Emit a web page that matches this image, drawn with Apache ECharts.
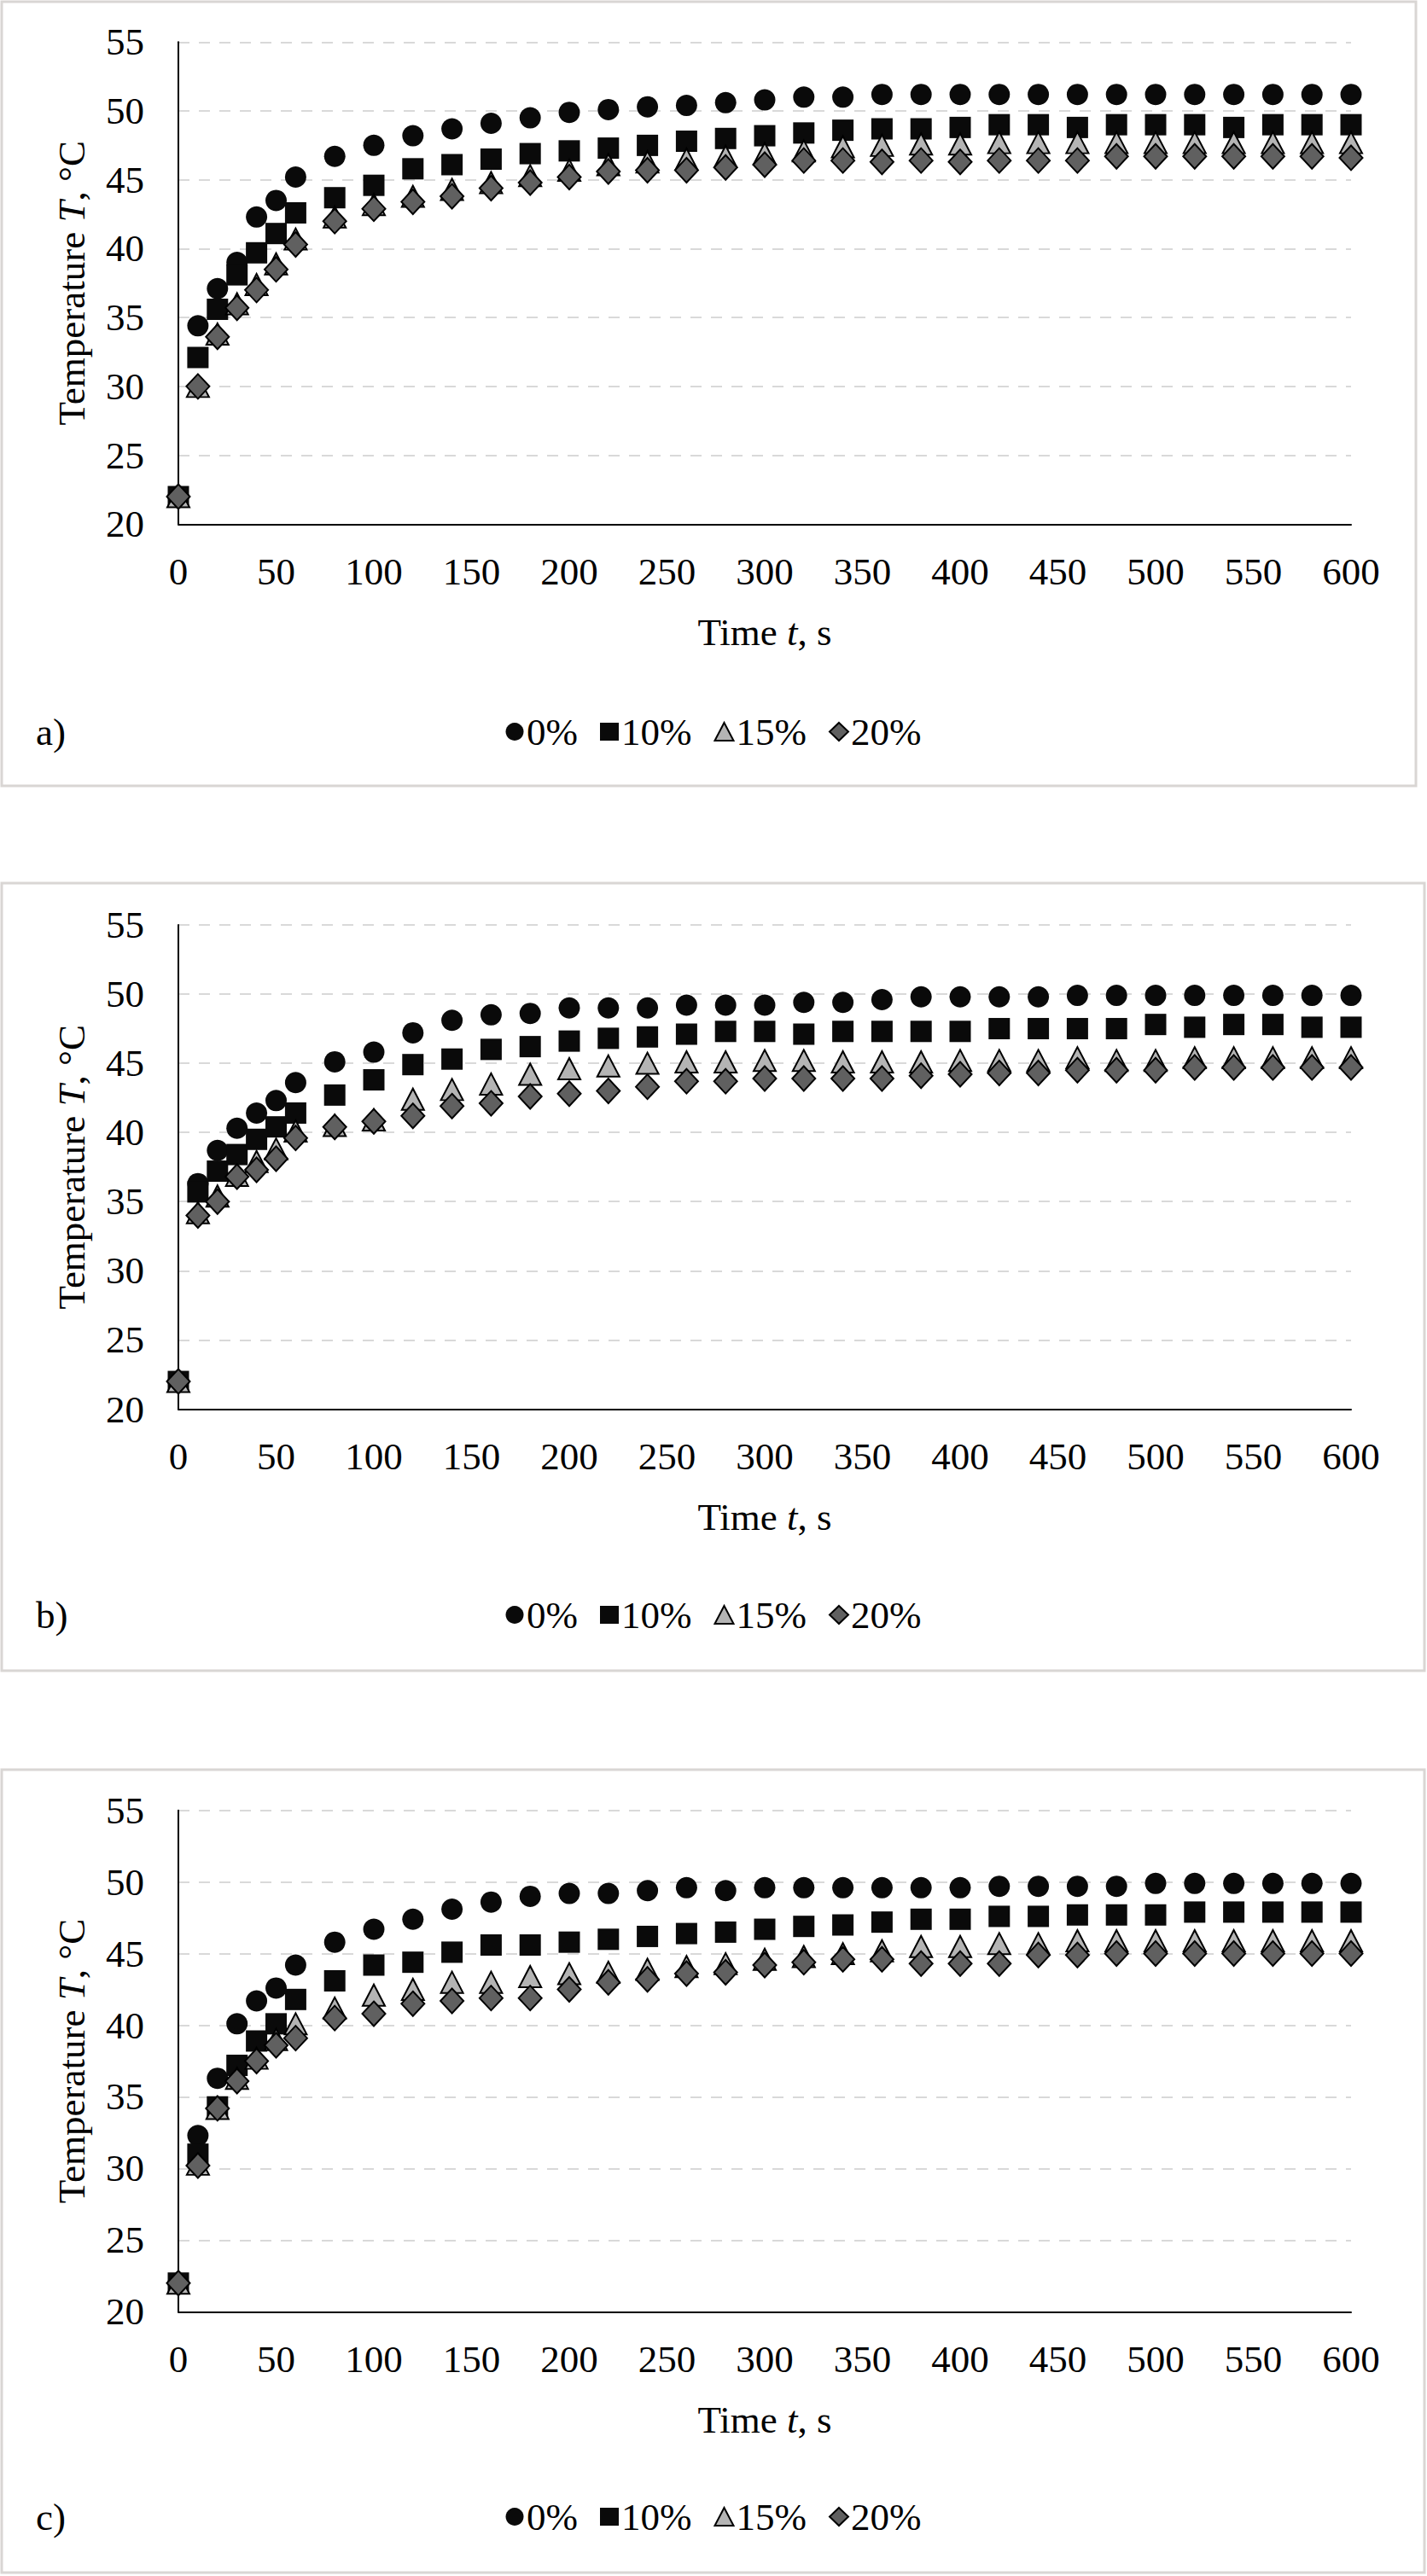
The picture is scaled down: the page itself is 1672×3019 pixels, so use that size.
<!DOCTYPE html>
<html>
<head>
<meta charset="utf-8">
<script src="https://cdn.jsdelivr.net/npm/echarts@6/dist/echarts.min.js"></script>
<style>
html,body{margin:0;padding:0;background:#fff;}
#chart{width:1672px;height:3019px;}
</style>
</head>
<body>
<div id="chart"></div>
<script>
// ---- data ----
const time = [0,10,20,30,40,50,60,80,100,120,140,160,180,200,220,240,260,280,300,320,340,360,380,400,420,440,460,480,500,520,540,560,580,600];
const seriesNames = ['0%','10%','15%','20%'];
const xTicks = [0,50,100,150,200,250,300,350,400,450,500,550,600];
const yTicks = [20,25,30,35,40,45,50,55];
const panelLabels = ['a)','b)','c)'];

// panel a
const a0  = [22.0,34.4,37.1,39.0,42.3,43.5,45.2,46.7,47.5,48.2,48.7,49.1,49.5,49.9,50.1,50.3,50.4,50.6,50.8,51.0,51.0,51.2,51.2,51.2,51.2,51.2,51.2,51.2,51.2,51.2,51.2,51.2,51.2,51.2];
const a10 = [22.0,32.1,35.6,38.1,39.7,41.1,42.6,43.7,44.6,45.8,46.1,46.5,46.9,47.1,47.3,47.5,47.8,48.0,48.2,48.4,48.6,48.7,48.7,48.8,49.0,49.0,48.8,49.0,49.0,49.0,48.8,49.0,49.0,49.0];
const a15 = [22.0,30.0,33.8,36.0,37.4,38.9,40.7,42.3,43.2,43.8,44.3,44.8,45.3,45.7,46.1,46.3,46.5,46.7,46.9,47.1,47.4,47.5,47.6,47.6,47.7,47.7,47.7,47.7,47.7,47.7,47.7,47.7,47.7,47.7];
const a20 = [22.0,30.0,33.6,35.7,37.0,38.5,40.3,42.0,42.9,43.4,43.8,44.4,44.8,45.2,45.6,45.7,45.7,45.9,46.1,46.4,46.4,46.3,46.4,46.3,46.4,46.4,46.4,46.7,46.7,46.7,46.7,46.7,46.7,46.6];
// panel b
const b0  = [22.0,36.3,38.7,40.3,41.4,42.3,43.6,45.1,45.8,47.2,48.1,48.5,48.6,49.0,49.0,49.0,49.2,49.2,49.2,49.4,49.4,49.6,49.8,49.8,49.8,49.8,49.9,49.9,49.9,49.9,49.9,49.9,49.9,49.9];
const b10 = [22.0,35.7,37.2,38.4,39.5,40.4,41.4,42.7,43.8,44.9,45.3,46.0,46.2,46.6,46.8,46.9,47.1,47.3,47.3,47.1,47.3,47.3,47.3,47.3,47.5,47.5,47.5,47.5,47.8,47.6,47.8,47.8,47.6,47.6];
const b15 = [22.0,34.2,35.4,36.9,37.9,38.8,40.1,40.5,40.9,42.4,43.1,43.5,44.2,44.6,44.8,45.0,45.1,45.1,45.2,45.2,45.1,45.1,45.1,45.2,45.2,45.2,45.4,45.2,45.2,45.4,45.4,45.4,45.4,45.4];
const b20 = [22.0,34.0,35.0,36.8,37.3,38.1,39.6,40.4,40.8,41.2,41.9,42.1,42.6,42.8,43.0,43.3,43.7,43.7,43.9,43.9,43.9,43.9,44.1,44.2,44.3,44.3,44.5,44.5,44.5,44.7,44.7,44.7,44.7,44.7];
// panel c
const c0  = [22.0,32.3,36.3,40.1,41.7,42.6,44.2,45.8,46.7,47.4,48.1,48.6,49.0,49.2,49.2,49.4,49.6,49.4,49.6,49.6,49.6,49.6,49.6,49.6,49.7,49.7,49.7,49.7,49.9,49.9,49.9,49.9,49.9,49.9];
const c10 = [22.0,31.0,34.3,37.2,38.9,40.1,41.8,43.1,44.2,44.4,45.1,45.6,45.6,45.8,46.0,46.2,46.4,46.5,46.7,46.9,47.0,47.2,47.4,47.4,47.6,47.6,47.7,47.7,47.7,47.9,47.9,47.9,47.9,47.9];
const c15 = [22.0,30.3,34.2,36.3,37.7,39.0,40.1,41.2,42.1,42.5,43.0,43.0,43.4,43.6,43.7,43.9,44.1,44.3,44.6,44.8,45.0,45.2,45.5,45.5,45.7,45.7,45.9,45.9,45.9,45.9,45.9,45.9,45.9,45.9];
const c20 = [22.0,30.2,34.2,36.1,37.5,38.6,39.1,40.5,40.8,41.5,41.7,41.9,41.9,42.5,43.0,43.2,43.6,43.7,44.2,44.4,44.6,44.6,44.3,44.3,44.3,44.9,44.9,45.0,45.0,45.0,45.0,45.0,45.0,45.0];

const panels = [[a0,a10,a15,a20],[b0,b10,b15,b20],[c0,c10,c15,c20]];

// ---- layout / style ----
const FONT = 'Liberation Serif';
const FS = 45;
const grids = [
  {left:209, top:49.3,   width:1374, height:565},
  {left:209, top:1083.9, width:1374, height:567.6},
  {left:209, top:2121.7, width:1374, height:587.6}
];
const frames = [
  {x:2, y:2,    w:1657, h:919},
  {x:2, y:1035, w:1667, h:923},
  {x:2, y:2074, w:1667, h:941}
];
const legendTops = [830, 1865, 2922];
const labelY = [858, 1893, 2950];

const markerStyles = [
  {symbol:'circle',   symbolSize:25,      itemStyle:{color:'#0a0a0a', opacity:1}},
  {symbol:'rect',     symbolSize:25,      itemStyle:{color:'#0a0a0a', opacity:1}},
  {symbol:'triangle', symbolSize:[26,25], itemStyle:{color:'#b4b4b4', borderColor:'#000', borderWidth:2, opacity:1}},
  {symbol:'diamond',  symbolSize:[27,29], itemStyle:{color:'#606060', borderColor:'#000', borderWidth:2, opacity:1}}
];

const xAxes = [], yAxes = [], series = [], legends = [], graphics = [];
grids.forEach((g, gi) => {
  xAxes.push({
    type:'value', gridIndex:gi, min:xTicks[0], max:xTicks[xTicks.length-1], interval:xTicks[1]-xTicks[0],
    axisLine:{show:true, onZero:false, lineStyle:{color:'#000', width:2}},
    axisTick:{show:false}, splitLine:{show:false},
    axisLabel:{fontFamily:FONT, fontSize:FS, color:'#000', margin:33},
    name:'{n|Time }{i|t}{n|, s}', nameLocation:'middle', nameGap:104,
    nameTextStyle:{fontFamily:FONT, fontSize:FS, color:'#000',
      rich:{n:{fontFamily:FONT, fontSize:FS, color:'#000'}, i:{fontFamily:FONT, fontSize:FS, color:'#000', fontStyle:'italic'}}}
  });
  yAxes.push({
    type:'value', gridIndex:gi, min:yTicks[0], max:yTicks[yTicks.length-1], interval:yTicks[1]-yTicks[0],
    axisLine:{show:true, lineStyle:{color:'#000', width:2}},
    axisTick:{show:false},
    splitLine:{show:true, lineStyle:{color:'#d9d9d9', width:2, type:[13,11]}},
    axisLabel:{fontFamily:FONT, fontSize:FS, color:'#000', margin:40},
    name:'{n|Temperature }{i|T}{n|, °C}', nameLocation:'middle', nameGap:103,
    nameTextStyle:{fontFamily:FONT, fontSize:FS, color:'#000',
      rich:{n:{fontFamily:FONT, fontSize:FS, color:'#000'}, i:{fontFamily:FONT, fontSize:FS, color:'#000', fontStyle:'italic'}}}
  });
  panels[gi].forEach((arr, si) => {
    series.push(Object.assign({
      type:'scatter', name:seriesNames[si], xAxisIndex:gi, yAxisIndex:gi,
      data: time.map((t, i) => [t, arr[i]]),
      emphasis:{disabled:true}, animation:false
    }, JSON.parse(JSON.stringify(markerStyles[si]))));
  });
  legends.push({
    data:seriesNames, left:'center', top:legendTops[gi],
    itemWidth:22, itemHeight:21, itemGap:26,
    textStyle:{fontFamily:FONT, fontSize:FS, color:'#000', padding:[0,0,0,-2]},
    selectedMode:false
  });
  graphics.push({
    type:'rect', shape:{x:frames[gi].x, y:frames[gi].y, width:frames[gi].w, height:frames[gi].h},
    style:{fill:null, stroke:'#d9d6d4', lineWidth:3}, silent:true
  });
  graphics.push({
    type:'text', x:42, y:labelY[gi],
    style:{text:panelLabels[gi], fontFamily:FONT, fontSize:FS, fill:'#000', verticalAlign:'middle', align:'left'}
  });
});

const chart = echarts.init(document.getElementById('chart'), null, {renderer:'svg', width:1672, height:3019});
chart.setOption({
  backgroundColor:'#fff',
  animation:false,
  grid:grids,
  xAxis:xAxes,
  yAxis:yAxes,
  legend:legends,
  series:series,
  graphic:graphics
});
</script>
</body>
</html>
